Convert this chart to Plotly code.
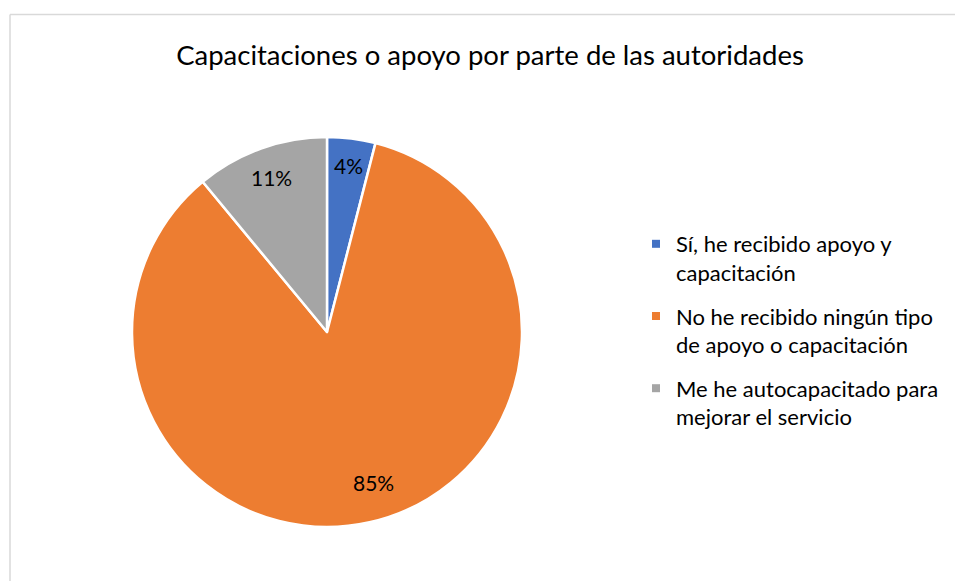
import math
import plotly.graph_objects as go

categories = ["Sí, he recibido apoyo y<br>capacitación",
              "No he recibido ningún tipo<br>de apoyo o capacitación",
              "Me he autocapacitado para<br>mejorar el servicio"]
values = [4, 85, 11]
colors = ["#4472C4", "#ED7D31", "#A5A5A5"]
title_text = "Capacitaciones o apoyo por parte de las autoridades"

W, H = 955, 581
FONT = "Lato"

def fx(px):
    return px / W

def fy(py):
    return 1 - py / H

# pie geometry (page pixels)
cx, cy, R = 327, 332, 195
dom_x = [fx(cx - R), fx(cx + R)]
dom_y = [fy(cy + R), fy(cy - R)]

fig = go.Figure()
fig.add_trace(go.Pie(
    labels=categories,
    values=values,
    sort=False,
    direction="clockwise",
    rotation=0,
    marker=dict(colors=colors, line=dict(color="white", width=2.5)),
    textinfo="none",
    hoverinfo="label+percent",
    showlegend=False,
    domain=dict(x=dom_x, y=dom_y),
))

# legend entries (one per category, same colours as the slices)
for i, (name, col) in enumerate(zip(categories, colors)):
    fig.add_trace(go.Scatter(
        x=[None], y=[None], mode="markers", name=name,
        legendgroup=f"g{i}",
        marker=dict(symbol="square", size=8, color=col),
        hoverinfo="skip",
    ))

# percentage labels, placed inside each slice
total = sum(values)
radii = [0.86, 0.81, 0.84]        # distance from centre (fraction of radius)
along = [0.5, 0.485, 0.5]         # position along the slice's arc
annotations = []
cum = 0
for v, rf, a in zip(values, radii, along):
    ang = (cum + v * a) / total * 2 * math.pi
    cum += v
    px = cx + rf * R * math.sin(ang)
    py = cy - rf * R * math.cos(ang)
    annotations.append(dict(
        x=fx(px), y=fy(py), xref="paper", yref="paper",
        xanchor="center", yanchor="middle",
        text=f"{round(v / total * 100)}%", showarrow=False,
        font=dict(family=FONT, size=21, color="#000000"),
    ))

border = dict(color="#D9D9D9", width=1.5)
fig.update_layout(
    width=W, height=H,
    margin=dict(l=0, r=0, t=0, b=0),
    paper_bgcolor="white",
    plot_bgcolor="white",
    xaxis=dict(visible=False), yaxis=dict(visible=False),
    title=dict(text=title_text, x=fx(490), y=fy(55), xref="paper", yref="paper",
               xanchor="center", yanchor="middle",
               font=dict(family=FONT, size=27.5, color="#000000")),
    legend=dict(x=fx(636), y=fy(223), xanchor="left", yanchor="top",
                font=dict(family=FONT, size=22, color="#000000"),
                valign="top", itemwidth=30, tracegroupgap=12,
                bgcolor="rgba(0,0,0,0)"),
    annotations=annotations,
    shapes=[
        dict(type="line", xref="paper", yref="paper",
             x0=fx(10), x1=1, y0=fy(14.5), y1=fy(14.5), line=border),
        dict(type="line", xref="paper", yref="paper",
             x0=fx(10), x1=fx(10), y0=0, y1=fy(14.5), line=border),
    ],
)

fig.write_html("out.html",
               config={"displayModeBar": False},
               post_script="document.body.style.margin='0';"
                           "document.body.style.overflow='hidden';")
